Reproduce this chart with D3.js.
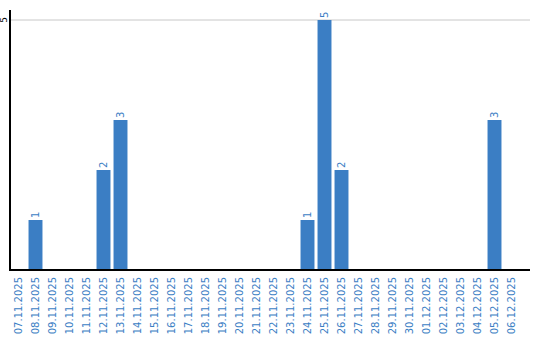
<!DOCTYPE html>
<html>
<head>
<meta charset="utf-8">
<script src="https://cdn.jsdelivr.net/npm/d3@7"></script>
<style>
  body { margin: 0; background: #fff; }
  text { font-family: "DejaVu Sans", Verdana, sans-serif; }
</style>
</head>
<body>
<svg></svg>
<script>
const dates = ["07.11.2025", "08.11.2025", "09.11.2025", "10.11.2025", "11.11.2025",
    "12.11.2025", "13.11.2025", "14.11.2025", "15.11.2025", "16.11.2025",
    "17.11.2025", "18.11.2025", "19.11.2025", "20.11.2025", "21.11.2025",
    "22.11.2025", "23.11.2025", "24.11.2025", "25.11.2025", "26.11.2025",
    "27.11.2025", "28.11.2025", "29.11.2025", "30.11.2025", "01.12.2025",
    "02.12.2025", "03.12.2025", "04.12.2025", "05.12.2025", "06.12.2025"];
const counts = [0, 1, 0, 0, 0, 2, 3, 0, 0, 0, 0, 0, 0, 0, 0, 0, 0, 1, 5, 2,
    0, 0, 0, 0, 0, 0, 0, 0, 3, 0];
const yTicks = [5];

const blue = "#3b7ec4";

const svg = d3.select("svg")
    .attr("width", 540)
    .attr("height", 340);

const x = d3.scaleBand()
    .domain(dates)
    .range([10, 520])
    .paddingInner(0.18)
    .paddingOuter(0.09);

const y = d3.scaleLinear()
    .domain([0, 5])
    .range([270, 20]);

// grid
svg.selectAll(".grid")
    .data(yTicks)
    .enter().append("line")
    .attr("x1", 11).attr("x2", 530)
    .attr("y1", d => y(d)).attr("y2", d => y(d))
    .attr("stroke", "#c8c8c8");

// bars
const data = dates.map((d, i) => ({date: d, value: counts[i]}));
const nonZero = data.filter(d => d.value > 0);

svg.selectAll(".bar")
    .data(nonZero)
    .enter().append("rect")
    .attr("x", d => x(d.date))
    .attr("y", d => y(d.value))
    .attr("width", x.bandwidth())
    .attr("height", d => y(0) - y(d.value))
    .attr("fill", blue);

// value labels
svg.selectAll(".val")
    .data(nonZero)
    .enter().append("text")
    .attr("transform", d => `translate(${x(d.date) + x.bandwidth() / 2 + 3.5},${y(d.value) - 2}) rotate(-90)`)
    .attr("font-size", 10)
    .attr("fill", blue)
    .text(d => d.value);

// axes lines
svg.append("line")
    .attr("x1", 10).attr("x2", 10)
    .attr("y1", 10).attr("y2", 271)
    .attr("stroke", "#000").attr("stroke-width", 2);
svg.append("line")
    .attr("x1", 9).attr("x2", 530)
    .attr("y1", 270).attr("y2", 270)
    .attr("stroke", "#000").attr("stroke-width", 2);

// y tick labels
svg.selectAll(".ytick")
    .data(yTicks)
    .enter().append("text")
    .attr("transform", d => `translate(7,${y(d)}) rotate(-90)`)
    .attr("text-anchor", "middle")
    .attr("font-size", 9)
    .attr("fill", "#000")
    .text(d => d);

// x tick labels
svg.selectAll(".xtick")
    .data(dates)
    .enter().append("text")
    .attr("transform", d => `translate(${x(d) + x.bandwidth() / 2 + 3.5},277) rotate(-90)`)
    .attr("text-anchor", "end")
    .attr("font-size", 10)
    .attr("fill", blue)
    .text(d => d);
</script>
</body>
</html>
